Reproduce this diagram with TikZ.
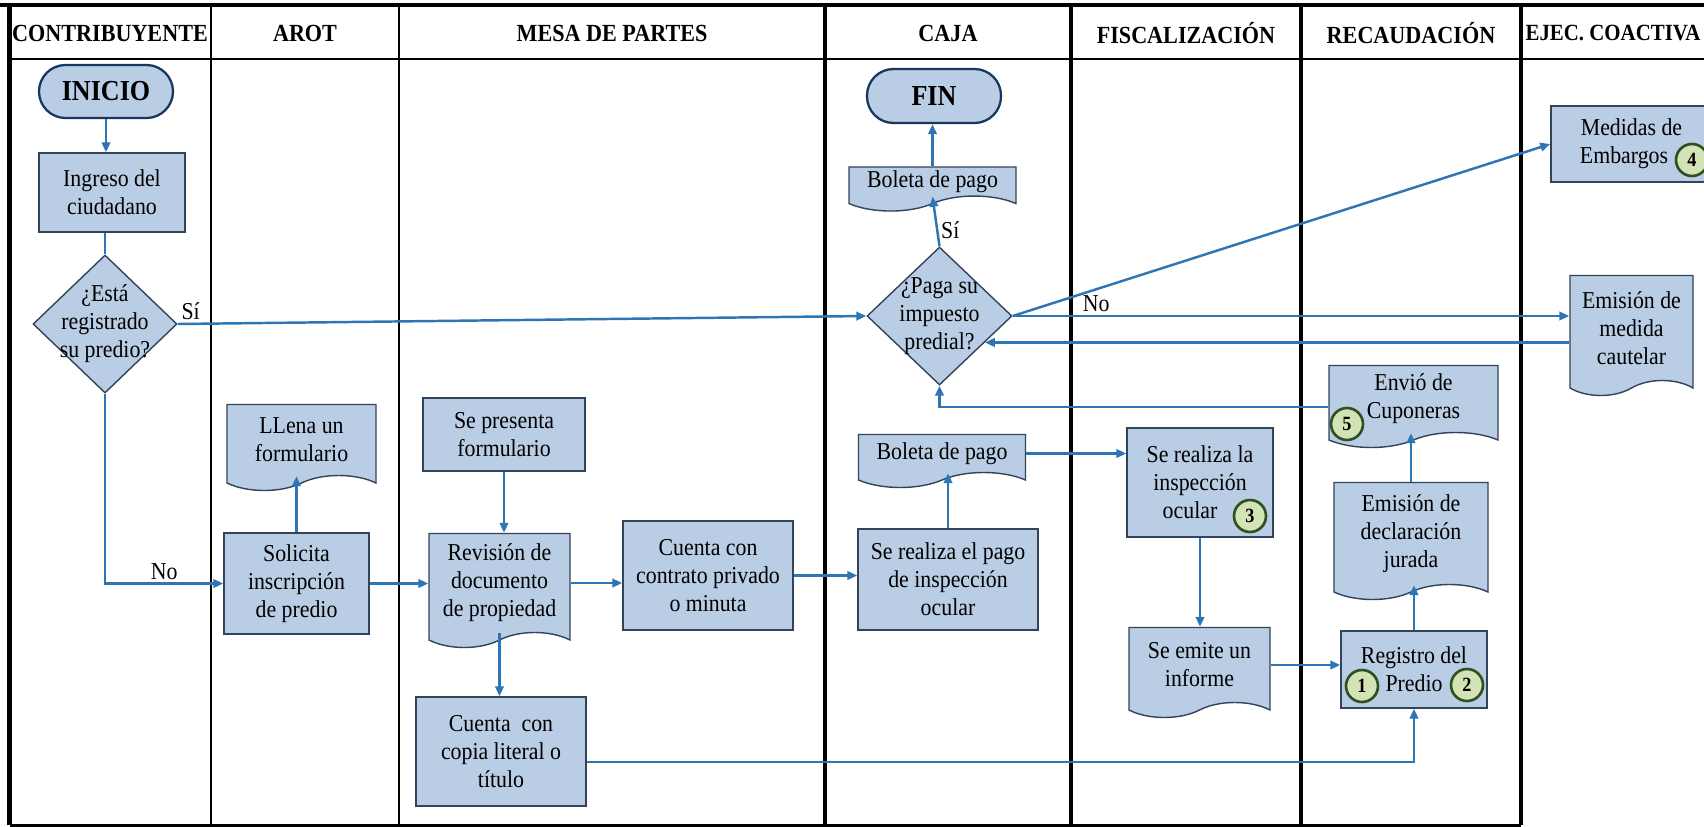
\documentclass[tikz,border=0pt]{standalone}
\usepackage{fontspec}
\setmainfont{Liberation Serif}[FakeStretch=0.9]
\usetikzlibrary{positioning,arrows.meta,calc,shapes.geometric,shapes.symbols}
\definecolor{flowblue}{HTML}{2E75B6}
\definecolor{boxfill}{HTML}{B9CDE5}
\definecolor{boxline}{HTML}{33435A}
\definecolor{termline}{HTML}{17375E}
\definecolor{numfill}{HTML}{D4E3B5}
\definecolor{numline}{HTML}{2F5020}
\tikzset{
  lane/.style    ={draw=black, line width=2.2pt},
  thinlane/.style={draw=black, line width=1.1pt},
  hdr/.style     ={font=\fontsize{14}{16}\selectfont\bfseries},
  proc/.style    ={draw=boxline, fill=boxfill, line width=0.8pt, align=center,
                   inner sep=2pt, font=\fontsize{13.8}{16}\selectfont},
  docu/.style    ={proc, tape, tape bend top=none, tape bend bottom=in and out,
                   tape bend height=0.3cm},
  deci/.style    ={proc, diamond, inner sep=-8pt},
  term/.style    ={proc, draw=termline, line width=1.3pt, rounded corners=0.53cm,
                   font=\fontsize{16.5}{18}\selectfont\bfseries},
  ncirc/.style   ={circle, draw=numline, fill=numfill, line width=1.5pt,
                   minimum size=0.64cm, inner sep=0pt,
                   font=\fontsize{11.5}{12}\selectfont\bfseries},
  flow/.style    ={-{Triangle[length=2mm, width=1.7mm]}, draw=flowblue,
                   line width=1.4pt},
  link/.style    ={draw=flowblue, line width=1.4pt},
  lbl/.style     ={font=\fontsize{13.8}{16}\selectfont, inner sep=1.5pt},
}

\begin{document}
\begin{tikzpicture}
  \useasboundingbox (0,0) rectangle (34.08,-16.54);

  % swimlanes
  \draw[line width=2.8pt] (0,-0.1) -- (34.08,-0.1);
  \draw[line width=2.8pt] (0.19,-0.1) -- (0.19,-16.5);
  \draw[line width=1.1pt] (0.19,-1.18) -- (34.08,-1.18);
  \draw[line width=1.7pt] (0.19,-16.5) -- (30.42,-16.5);
  \foreach \x in {4.22,7.98}
    \draw[thinlane] (\x,-0.1) -- (\x,-16.5);
  \foreach \x in {16.5,21.42,26.02,30.42}
    \draw[lane] (\x,-0.1) -- (\x,-16.5);

  \node[hdr] (hcontrib) at (2.2,-0.66) {CONTRIBUYENTE};
  \node[hdr] (harot) at (6.1,-0.66) {AROT};
  \node[hdr] (hmesa) at (12.24,-0.66) {MESA DE PARTES};
  \node[hdr] (hcaja) at (18.96,-0.66) {CAJA};
  \node[hdr] (hfisc) at (23.72,-0.66) {FISCALIZACIÓN};
  \node[hdr] (hrecau) at (28.22,-0.66) {RECAUDACIÓN};
  \node[hdr, anchor=west, inner sep=1pt, font=\fontsize{13.2}{16}\selectfont\bfseries]
    (hejec) at (30.47,-0.66) {EJEC. COACTIVA};

  % contribuyente
  \node[term, minimum width=2.68cm, minimum height=1.06cm] (inicio)
    at (2.12,-1.83) {INICIO};
  \node[proc, minimum width=2.92cm, minimum height=1.58cm] (ingreso)
    at (2.24,-3.85) {Ingreso del\\ciudadano};
  \node[deci, minimum width=2.88cm, minimum height=2.76cm] (esta)
    at (2.1,-6.48) {¿Está\\registrado\\su predio?};

  % arot
  \node[docu, minimum width=2.98cm, minimum height=1.72cm] (llena)
    at (6.03,-8.8) {LLena un\\formulario};
  \node[proc, minimum width=2.9cm, minimum height=2.02cm] (solicita)
    at (5.93,-11.67) {Solicita\\inscripción\\de predio};

  % mesa de partes
  \node[proc, minimum width=3.24cm, minimum height=1.46cm] (presenta)
    at (10.08,-8.69) {Se presenta\\formulario};
  \node[docu, minimum width=2.82cm, minimum height=2.28cm] (revision)
    at (9.99,-11.66) {Revisión de\\documento\\de propiedad};
  \node[proc, minimum width=3.4cm, minimum height=2.18cm] (copia)
    at (10.02,-15.03) {Cuenta\ \ con\\copia literal o\\título};
  \node[proc, minimum width=3.4cm, minimum height=2.18cm] (contrato)
    at (14.16,-11.51) {Cuenta con\\contrato privado\\o minuta};

  % caja
  \node[term, minimum width=2.68cm, minimum height=1.08cm] (fin)
    at (18.68,-1.92) {FIN};
  \node[docu, minimum width=3.34cm, minimum height=0.86cm] (boletaA)
    at (18.65,-3.63) {Boleta de pago};
  \node[deci, minimum width=2.9cm, minimum height=2.76cm] (paga)
    at (18.79,-6.32) {¿Paga su\\impuesto\\predial?};
  \node[docu, minimum width=3.34cm, minimum height=1.06cm] (boletaB)
    at (18.84,-9.07) {Boleta de pago};
  \node[proc, minimum width=3.6cm, minimum height=2.02cm] (pago)
    at (18.96,-11.59) {Se realiza el pago\\de inspección\\ocular};

  % fiscalizacion
  \node[proc, minimum width=2.92cm, minimum height=2.18cm] (inspeccion)
    at (24.0,-9.65) {Se realiza la\\inspección\\ocular\hspace*{0.4cm}};
  \node[docu, minimum width=2.82cm, minimum height=1.8cm] (informe)
    at (23.99,-13.3) {Se emite un\\informe};

  % recaudacion
  \node[docu, minimum width=3.38cm, minimum height=1.64cm] (cuponeras)
    at (28.27,-7.98) {Envió de\\Cuponeras};
  \node[docu, minimum width=3.08cm, minimum height=2.34cm] (declaracion)
    at (28.22,-10.67) {Emisión de\\declaración\\jurada};
  \node[proc, minimum width=2.92cm, minimum height=1.54cm] (registro)
    at (28.28,-13.39) {Registro del\\Predio};

  % ejecucion coactiva
  \node[proc, minimum width=3.22cm, minimum height=1.52cm] (medidas)
    at (32.63,-2.88) {Medidas de\\Embargos\hspace*{0.3cm}};
  \node[docu, minimum width=2.46cm, minimum height=2.4cm] (cautelar)
    at (32.63,-6.56) {Emisión de\\medida\\cautelar};

  % numbered marks
  \node[ncirc] (n1) at (27.24,-13.72) {1};
  \node[ncirc] (n2) at (29.34,-13.7) {2};
  \node[ncirc] (n3) at (25.0,-10.32) {3};
  \node[ncirc] (n4) at (33.84,-3.2) {4};
  \node[ncirc] (n5) at (26.94,-8.48) {5};

  % connectors
  \draw[flow] (inicio.south) -- (inicio.south |- ingreso.north);
  \draw[link] (esta.north |- ingreso.south) -- (esta.north);
  \draw[flow] (esta.east) -- node[lbl, above right, pos=0] {Sí} (paga.west);
  \draw[flow] (esta.south) |- node[lbl, above, pos=0.75] {No} (solicita.west);
  \draw[flow] (solicita.north) -- (solicita.north |- llena.south);
  \draw[flow] (solicita.east) -- (solicita.east -| revision.west);
  \draw[flow] (presenta.south) -- (presenta.south |- revision.north);
  \draw[flow] (revision.south) -- (revision.south |- copia.north);
  \draw[flow] (revision.east) -- (revision.east -| contrato.west);
  \draw[flow] (contrato.east) -- (contrato.east -| pago.west);
  \draw[flow] (pago.north) -- (pago.north |- boletaB.south);
  \draw[flow] (boletaB.east) -- (boletaB.east -| inspeccion.west);
  \draw[flow] (inspeccion.south) -- (inspeccion.south |- informe.north);
  \draw[flow] (informe.east) -- (informe.east -| registro.west);
  \draw[flow] ([yshift=-0.21cm]copia.east) -| (registro.south);
  \draw[flow] (registro.north) -- (registro.north |- declaracion.south);
  \draw[flow] (declaracion.north) -- (declaracion.north |- cuponeras.south);
  \draw[flow] ([yshift=-0.16cm]cuponeras.west) -| (paga.south);
  \draw[flow] (paga.north) -- node[lbl, right, pos=0.32] {Sí} (boletaA.south);
  \draw[flow] (boletaA.north) -- (boletaA.north |- fin.south);
  \draw[flow] (paga.east) -- (medidas.west);
  \draw[flow] (paga.east) -- node[lbl, above, pos=0.15] {No}
    (paga.east -| cautelar.west);
  \coordinate (pagain) at ($(paga.east)!0.38!(paga.south)$);
  \draw[flow] (cautelar.west |- pagain) -- (pagain);
\end{tikzpicture}
\end{document}
